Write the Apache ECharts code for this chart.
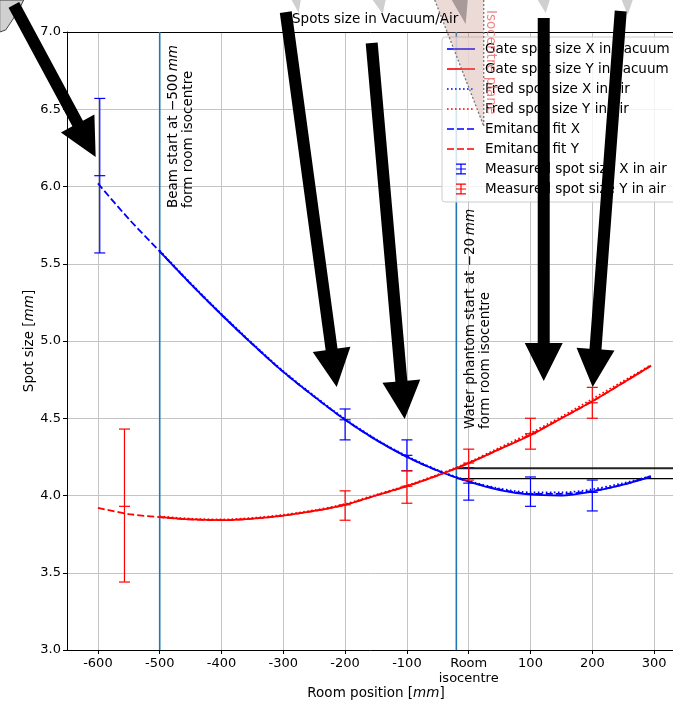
<!DOCTYPE html>
<html><head><meta charset="utf-8">
<script src="https://cdn.jsdelivr.net/npm/echarts@6/dist/echarts.min.js"></script>
<style>html,body{margin:0;padding:0;background:#fff}#c{width:673px;height:703px}</style>
</head><body><div id="c"></div>
<script>
const FONT = 'DejaVu Sans';
// ---- axes ----
const xMin = -650, xMax = 350;
const yMin = 3, yMax = 7, yStep = 0.5;
const xTicks = [-600, -500, -400, -300, -200, -100, 0, 100, 200, 300];
const xTickLabels = ['-600', '-500', '-400', '-300', '-200', '-100', 'Room\nisocentre', '100', '200', '300'];
// ---- emittance fit (dashed) ----
const fitZ = [-600, -550, -500, -450, -400, -350, -300, -250, -200, -150, -100, -50, 0, 50, 100, 150, 200, 250, 295];
const fitX = [6.02, 5.79, 5.58, 5.37, 5.17, 4.98, 4.80, 4.64, 4.49, 4.36, 4.25, 4.16, 4.09, 4.04, 4.01, 4.01, 4.03, 4.07, 4.125];
const fitY = [3.92, 3.88, 3.86, 3.845, 3.84, 3.85, 3.87, 3.90, 3.94, 4.00, 4.06, 4.13, 4.21, 4.30, 4.395, 4.50, 4.61, 4.73, 4.84];
// ---- simulations (Gate solid, Fred dotted) ----
const simZ = [-500, -450, -400, -350, -300, -250, -200, -150, -100, -50, 0, 50, 100, 150, 200, 250, 295];
const gateX = [5.58, 5.37, 5.17, 4.98, 4.80, 4.64, 4.49, 4.36, 4.25, 4.16, 4.09, 4.035, 4.005, 4.0, 4.025, 4.07, 4.12];
const gateY = [3.86, 3.845, 3.84, 3.85, 3.87, 3.90, 3.94, 4.00, 4.06, 4.13, 4.21, 4.30, 4.39, 4.50, 4.61, 4.73, 4.84];
const fredX = [5.585, 5.375, 5.175, 4.985, 4.805, 4.645, 4.495, 4.365, 4.255, 4.165, 4.095, 4.045, 4.02, 4.02, 4.04, 4.08, 4.125];
const fredY = [3.865, 3.85, 3.845, 3.855, 3.875, 3.905, 3.945, 4.005, 4.065, 4.135, 4.215, 4.31, 4.405, 4.51, 4.625, 4.74, 4.845];
// ---- measurements ----
const measXPos = [-597, -200, -100, 0, 100, 200];
const measXVal = [6.07, 4.49, 4.26, 4.08, 4.01, 4.02];
const measXLow = [5.57, 4.36, 4.16, 3.97, 3.93, 3.90];
const measXHigh = [6.57, 4.56, 4.36, 4.18, 4.12, 4.10];
const measYPos = [-557, -200, -100, 0, 100, 200];
const measYVal = [3.93, 3.94, 4.06, 4.21, 4.40, 4.60];
const measYLow = [3.44, 3.84, 3.95, 4.10, 4.30, 4.50];
const measYHigh = [4.43, 4.03, 4.16, 4.30, 4.50, 4.70];
// ---- reference lines ----
const beamStart = -500, phantomStart = -20;
const entryLevels = [4.176, 4.109];
// ---- annotations (data coordinates) ----
const arrows = [
  { tail: [-736, 7.175], tip: [-603.6, 6.191] },
  { tail: [-296, 7.129], tip: [-213.6, 4.702] },
  { tail: [-157, 6.929], tip: [-103.6, 4.495] },
  { tail: [121.4, 7.091], tip: [121.4, 4.741] },
  { tail: [246, 7.136], tip: [200.6, 4.702] }
];
const greyMarks = [
  [[-286.4, 7.207], [-271.8, 7.207], [-275.1, 7.123]],
  [[-155.3, 7.207], [-134.3, 7.207], [-139.2, 7.117]],
  [[111.7, 7.207], [131.1, 7.207], [124.6, 7.123]],
  [[247.6, 7.207], [265.4, 7.207], [257.3, 7.110]]
];
const darkMark = [[-27.5, 7.207], [-1.6, 7.207], [-4.9, 7.052]];
const cornerMark = [[-758.9, 7.207], [-720.1, 7.207], [-729.8, 7.129], [-749.2, 7.013], [-758.9, 7.0]];
const wedge = [[-55, 7.207], [24.3, 7.207], [24.3, 6.392]];
const beamText = { at: [-490.3, 5.861], text: 'Beam start at \u2212500\u2009{i|mm}\nform room isocentre' };
const phantomText = { at: [-9.7, 4.430], text: 'Water phantom start at \u221220\u2009{i|mm}\nform room isocentre' };
const isoText = { at: [35.6, 7.142], text: 'Isocentre plane' };

const blue = '#0000ff', red = '#ff0000', vcol = '#1f77b4';
const names = ['Gate spot size X in vacuum', 'Gate spot size Y in vacuum', 'Fred spot size X in air', 'Fred spot size Y in air',
  'Emitance fit X', 'Emitance fit Y', 'Measured spot size X in air', 'Measured spot size Y in air'];

const pair = (xs, ys) => xs.map((x, i) => [x, ys[i]]);
function lineSer(name, xs, ys, color, type, z) {
  return { name, type: 'line', data: pair(xs, ys), symbol: 'none', smooth: 0.3, z,
    lineStyle: { color, width: 1.8, type }, itemStyle: { color }, silent: true };
}
function errSer(name, color, pos, val, lo, hi) {
  return {
    name, type: 'custom', z: 8, silent: true, itemStyle: { color },
    data: pos.map((p, i) => [p, val[i], lo[i], hi[i]]),
    encode: { x: 0, y: [1, 2, 3] },
    renderItem(params, api) {
      const x = api.value(0);
      const c = api.coord([x, api.value(1)]);
      const l = api.coord([x, api.value(2)]);
      const h = api.coord([x, api.value(3)]);
      const w = 5.5;
      const st = { stroke: color, lineWidth: 1.2, fill: null };
      const seg = (x1, y1, x2, y2) => ({ type: 'line', shape: { x1, y1, x2, y2 }, style: st });
      return { type: 'group', children: [
        seg(l[0], l[1], h[0], h[1]),
        seg(l[0] - w, l[1], l[0] + w, l[1]),
        seg(h[0] - w, h[1], h[0] + w, h[1]),
        seg(c[0] - w, c[1], c[0] + w, c[1])
      ] };
    }
  };
}
function refLine(pts, color, width, z) {
  return { type: 'line', data: pts, symbol: 'none', silent: true, z, lineStyle: { color, width, type: 'solid' }, itemStyle: { color } };
}
// legend icons (28 x 14 boxes)
const box = 'M0,0L0,0M28,14L28,14';
const iconSolid = 'path://' + box + 'M0,6.2h28v1.6h-28z';
let dots = box; for (let x = 0; x < 28; x += 4) dots += 'M' + x + ',6.2h1.6v1.6h-1.6z';
const iconDot = 'path://' + dots;
const iconDash = 'path://' + box + 'M0,6.2h7v1.6h-7zM10,6.2h7v1.6h-7zM20,6.2h7v1.6h-7z';
const iconErr = 'path://' + box + 'M9,1.5h10v1.2h-10zM13.4,1.5h1.2v11h-1.2zM9,11.3h10v1.2h-10zM9,6.4h10v1.2h-10z';
const icons = [iconSolid, iconSolid, iconDot, iconDot, iconDash, iconDash, iconErr, iconErr];

const chart = echarts.init(document.getElementById('c'));
const axisLineStyle = { color: '#000', width: 1 };
const option = {
  animation: false,
  title: { text: 'Spots size in Vacuum/Air', left: 292, top: 12, padding: 0,
    textStyle: { fontFamily: FONT, fontSize: 13.5, fontWeight: 'normal', color: '#000' } },
  grid: { left: 67, top: 32, right: -12, bottom: 53, containLabel: false, outerBoundsMode: 'none' },
  legend: {
    orient: 'vertical', left: 442, top: 37, padding: [5, 30, 6, 5], itemGap: 6, itemWidth: 28, itemHeight: 14,
    backgroundColor: 'rgba(255,255,255,0.8)', borderColor: '#cccccc', borderWidth: 1, borderRadius: 3,
    itemStyle: { borderWidth: 0 }, selectedMode: false, z: 5,
    textStyle: { fontFamily: FONT, fontSize: 13.5, color: '#000', padding: [0, 0, 0, 5] },
    data: names.map((n, i) => ({ name: n, icon: icons[i] }))
  },
  xAxis: [{
    type: 'value', min: xMin, max: xMax, position: 'bottom',
    name: 'Room position [{i|mm}]', nameLocation: 'middle', nameGap: 36, nameMoveOverlap: false,
    nameTextStyle: { fontFamily: FONT, fontSize: 13.5, color: '#000', rich: { i: { fontStyle: 'italic', fontFamily: FONT, fontSize: 13.5 } } },
    axisLine: { show: true, onZero: false, lineStyle: axisLineStyle },
    axisTick: { show: true, length: 4, customValues: xTicks, lineStyle: { color: '#000' } },
    axisLabel: { customValues: xTicks, fontFamily: FONT, fontSize: 13, color: '#000', margin: 6, lineHeight: 15,
      formatter: v => xTickLabels[xTicks.indexOf(Math.round(v))] },
    splitLine: { show: true, lineStyle: { color: '#c4c4c4', width: 1 } }
  }, {
    type: 'value', min: xMin, max: xMax, position: 'top',
    axisLine: { show: true, onZero: false, lineStyle: axisLineStyle },
    axisTick: { show: false }, axisLabel: { show: false }, splitLine: { show: false }
  }],
  yAxis: {
    type: 'value', min: yMin, max: yMax, interval: yStep,
    name: 'Spot size [{i|mm}]', nameLocation: 'middle', nameGap: 31, nameMoveOverlap: false,
    nameTextStyle: { fontFamily: FONT, fontSize: 13.5, color: '#000', rich: { i: { fontStyle: 'italic', fontFamily: FONT, fontSize: 13.5 } } },
    axisLine: { show: true, onZero: false, lineStyle: axisLineStyle },
    axisTick: { show: true, length: 4, lineStyle: { color: '#000' } },
    axisLabel: { fontFamily: FONT, fontSize: 13, color: '#000', margin: 6, formatter: v => v.toFixed(1) },
    splitLine: { show: true, lineStyle: { color: '#c4c4c4', width: 1 } }
  },
  series: [
    refLine([[beamStart, yMin], [beamStart, yMax]], vcol, 1.6, 3),
    refLine([[phantomStart, yMin], [phantomStart, yMax]], vcol, 1.6, 3),
    refLine([[phantomStart, entryLevels[0]], [xMax, entryLevels[0]]], '#222', 2, 3),
    refLine([[phantomStart, entryLevels[1]], [xMax, entryLevels[1]]], '#000', 1.3, 3),
    lineSer(names[0], simZ, gateX, blue, 'solid', 4),
    lineSer(names[1], simZ, gateY, red, 'solid', 4),
    lineSer(names[2], simZ, fredX, blue, [1.6, 2.4], 5),
    lineSer(names[3], simZ, fredY, red, [1.6, 2.4], 5),
    lineSer(names[4], fitZ, fitX, blue, [7, 3], 6),
    lineSer(names[5], fitZ, fitY, red, [7, 3], 6),
    errSer(names[6], blue, measXPos, measXVal, measXLow, measXHigh),
    errSer(names[7], red, measYPos, measYVal, measYLow, measYHigh)
  ]
};
chart.setOption(option);

const P = p => chart.convertToPixel({ xAxisIndex: 0, yAxisIndex: 0 }, p);
function arrowPts(t, h, sw, hw, hl) {
  const dx = h[0] - t[0], dy = h[1] - t[1], L = Math.hypot(dx, dy);
  const ux = dx / L, uy = dy / L, nx = -uy, ny = ux;
  const bx = h[0] - ux * hl, by = h[1] - uy * hl;
  return [[t[0] + nx * sw / 2, t[1] + ny * sw / 2], [bx + nx * sw / 2, by + ny * sw / 2], [bx + nx * hw / 2, by + ny * hw / 2],
    h, [bx - nx * hw / 2, by - ny * hw / 2], [bx - nx * sw / 2, by - ny * sw / 2], [t[0] - nx * sw / 2, t[1] - ny * sw / 2]];
}
const richI = { i: { fontStyle: 'italic', fontFamily: FONT, fontSize: 13.5, fill: '#000' } };
const w = wedge.map(P);
const g = [
  { type: 'polygon', shape: { points: w }, style: { fill: 'rgba(195,140,130,0.32)' }, z: 6, silent: true },
  { type: 'polyline', shape: { points: [w[0], w[2]] }, style: { stroke: '#777', lineWidth: 1.3, lineDash: [2, 2], fill: null }, z: 6, silent: true },
  { type: 'polyline', shape: { points: [w[1], w[2]] }, style: { stroke: '#777', lineWidth: 1.3, lineDash: [2, 2], fill: null }, z: 6, silent: true },
  { type: 'polygon', shape: { points: darkMark.map(P) }, style: { fill: 'rgba(120,110,110,0.6)' }, z: 6, silent: true },
  { type: 'polygon', shape: { points: cornerMark.map(P) }, style: { fill: '#d0d0d0', stroke: '#444', lineWidth: 1 }, z: 6, silent: true },
  (() => { const a = P(isoText.at); return { type: 'text', x: a[0], y: a[1], rotation: -Math.PI / 2, z: 6, silent: true,
    style: { text: isoText.text, fontFamily: FONT, fontSize: 13.5, fill: 'rgba(235,100,100,0.8)', align: 'left', verticalAlign: 'middle' } }; })(),
  (() => { const a = P(beamText.at); return { type: 'text', x: a[0], y: a[1], rotation: Math.PI / 2, z: 6, silent: true,
    style: { text: beamText.text, rich: richI, fontFamily: FONT, fontSize: 13.5, lineHeight: 15, fill: '#000', align: 'left', verticalAlign: 'top' } }; })(),
  (() => { const a = P(phantomText.at); return { type: 'text', x: a[0], y: a[1], rotation: Math.PI / 2, z: 6, silent: true,
    style: { text: phantomText.text, rich: richI, fontFamily: FONT, fontSize: 13.5, lineHeight: 15, fill: '#000', align: 'left', verticalAlign: 'top' } }; })()
];
greyMarks.forEach(t => g.push({ type: 'polygon', shape: { points: t.map(P) }, style: { fill: '#cfcfcf' }, z: 6, silent: true }));
arrows.forEach(a => {
  g.push({ type: 'polygon', shape: { points: arrowPts(P(a.tail), P(a.tip), 12, 38, 38) }, style: { fill: '#000' }, z: 50, silent: true });
});
chart.setOption({ graphic: { elements: g } });
</script></body></html>
